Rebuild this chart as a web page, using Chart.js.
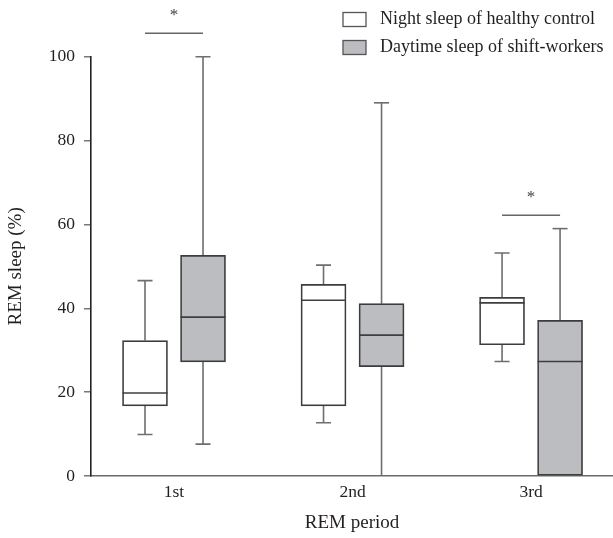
<!DOCTYPE html>
<html>
<head>
<meta charset="utf-8">
<script src="https://cdn.jsdelivr.net/npm/chart.js@4/dist/chart.umd.min.js"></script>
<style>
  html, body { margin: 0; padding: 0; background: #ffffff; }
  #wrap { width: 613px; height: 538px; position: relative; }
</style>
</head>
<body>
<div id="wrap"><canvas id="c" width="613" height="538"></canvas></div>
<script>
// ---- Data ----
const categories = ['1st', '2nd', '3rd'];
const seriesNames = ['Night sleep of healthy control', 'Daytime sleep of shift-workers'];

const controlMin    = [9.9, 12.7, 27.3];
const controlQ1     = [16.7, 16.7, 31.3];
const controlMedian = [19.8, 41.9, 41.3];
const controlQ3     = [32.3, 45.7, 42.6];
const controlMax    = [46.6, 50.3, 53.2];

const shiftMin      = [7.6, 0, 0];
const shiftQ1       = [27.2, 26.1, 0];
const shiftMedian   = [37.9, 33.6, 27.3];
const shiftQ3       = [52.6, 41.1, 37.1];
const shiftMax      = [100, 89.0, 59.0];

const yTickValues   = [0, 20, 40, 60, 80, 100];
const sigLevel      = [105.6, null, 62.2];   // level of significance bar per category (null = none)
const sigMark       = '*';

// ---- Styles ----
const FONT = "'Liberation Serif', 'Times New Roman', serif";
const TEXT = '#231f20';
const GRAY_FILL = '#bcbdc1';
const BOX_EDGE = '#3c3c3c';
const WHISKER = '#6e6e6e';
const BOX_W = 45;
const GROUP_OFF = 0.1625;

const stats = [
  { min: controlMin, q1: controlQ1, med: controlMedian, q3: controlQ3, max: controlMax },
  { min: shiftMin,   q1: shiftQ1,   med: shiftMedian,   q3: shiftQ3,   max: shiftMax }
];

function boxData(s, sign) {
  return categories.map((c, i) => ({ x: i + 1 + sign * GROUP_OFF, y: [s.q1[i], s.q3[i]] }));
}

const boxPlugin = {
  id: 'boxParts',
  beforeDatasetsDraw(chart) {
    const ctx = chart.ctx, y = chart.scales.y;
    ctx.save();
    ctx.strokeStyle = WHISKER;
    ctx.lineWidth = 1.6;
    stats.forEach((s, d) => {
      const meta = chart.getDatasetMeta(d);
      meta.data.forEach((el, i) => {
        const x = el.x;
        const cap = 15;
        const yMin = y.getPixelForValue(s.min[i]);
        const yQ1 = y.getPixelForValue(s.q1[i]);
        const yQ3 = y.getPixelForValue(s.q3[i]);
        const yMax = y.getPixelForValue(s.max[i]);
        ctx.beginPath();
        ctx.moveTo(x, yQ3); ctx.lineTo(x, yMax);
        ctx.moveTo(x, yQ1); ctx.lineTo(x, yMin);
        ctx.stroke();
        ctx.beginPath();
        ctx.moveTo(x - cap / 2, yMax); ctx.lineTo(x + cap / 2, yMax);
        if (s.min[i] > y.min) { ctx.moveTo(x - cap / 2, yMin); ctx.lineTo(x + cap / 2, yMin); }
        ctx.stroke();
      });
    });
    ctx.restore();
  },
  afterDatasetsDraw(chart) {
    const ctx = chart.ctx, y = chart.scales.y;
    ctx.save();
    ctx.strokeStyle = '#3e3e3e';
    ctx.lineWidth = 1.6;
    stats.forEach((s, d) => {
      const meta = chart.getDatasetMeta(d);
      meta.data.forEach((el, i) => {
        const ym = y.getPixelForValue(s.med[i]);
        ctx.beginPath();
        ctx.moveTo(el.x - el.width / 2, ym);
        ctx.lineTo(el.x + el.width / 2, ym);
        ctx.stroke();
      });
    });
    ctx.restore();
  },
  afterDraw(chart) {
    const ctx = chart.ctx, y = chart.scales.y;
    ctx.save();
    // significance bars
    const m0 = chart.getDatasetMeta(0), m1 = chart.getDatasetMeta(1);
    sigLevel.forEach((lv, i) => {
      if (lv === null) return;
      const yp = y.getPixelForValue(lv);
      ctx.strokeStyle = '#666';
      ctx.lineWidth = 1.5;
      ctx.beginPath();
      ctx.moveTo(m0.data[i].x, yp);
      ctx.lineTo(m1.data[i].x, yp);
      ctx.stroke();
      ctx.fillStyle = '#444';
      ctx.font = '17px ' + FONT;
      ctx.textAlign = 'center';
      ctx.textBaseline = 'alphabetic';
      ctx.fillText(sigMark, (m0.data[i].x + m1.data[i].x) / 2, yp - 13);
    });
    // legend
    const lx = 343, ly = [12.5, 40.5];
    const fills = ['#ffffff', GRAY_FILL];
    seriesNames.forEach((name, k) => {
      ctx.fillStyle = fills[k];
      ctx.fillRect(lx, ly[k], 23, 14);
      ctx.strokeStyle = '#555';
      ctx.lineWidth = 1.3;
      ctx.strokeRect(lx, ly[k], 23, 14);
      ctx.fillStyle = TEXT;
      ctx.font = '18px ' + FONT;
      ctx.textAlign = 'left';
      ctx.textBaseline = 'middle';
      ctx.fillText(name, 380, ly[k] + 7);
    });
    ctx.restore();
  }
};

new Chart(document.getElementById('c'), {
  type: 'bar',
  data: {
    datasets: [
      {
        label: seriesNames[0],
        data: boxData(stats[0], -1),
        backgroundColor: '#ffffff',
        borderColor: BOX_EDGE,
        borderWidth: 1.7,
        borderSkipped: false,
        grouped: false,
        barThickness: BOX_W
      },
      {
        label: seriesNames[1],
        data: boxData(stats[1], 1),
        backgroundColor: GRAY_FILL,
        borderColor: BOX_EDGE,
        borderWidth: 1.7,
        borderSkipped: false,
        grouped: false,
        barThickness: BOX_W
      }
    ]
  },
  options: {
    responsive: false,
    animation: false,
    devicePixelRatio: 1,
    layout: { padding: { left: 0, right: 0, top: 56.7, bottom: 0 } },
    plugins: {
      legend: { display: false },
      tooltip: { enabled: false }
    },
    scales: {
      x: {
        type: 'linear',
        offset: false,
        min: 0.535,
        max: 3.459,
        afterBuildTicks(scale) { scale.ticks = categories.map((c, i) => ({ value: i + 1 })); },
        afterFit(scale) { scale.height = 62; },
        grid: { display: false, offset: false },
        border: { display: true, color: '#6a6a6a', width: 1.6 },
        ticks: {
          color: TEXT,
          font: { family: FONT, size: 17.5 },
          padding: -2,
          maxRotation: 0,
          callback: (v) => categories[Math.round(v) - 1]
        },
        title: {
          display: true,
          text: 'REM period',
          color: TEXT,
          font: { family: FONT, size: 19 },
          padding: { top: 0, bottom: 4 }
        }
      },
      y: {
        min: 0,
        max: 100,
        afterBuildTicks(scale) { scale.ticks = yTickValues.map(v => ({ value: v })); },
        afterFit(scale) { scale.width = 91; },
        grid: { drawOnChartArea: false, drawTicks: true, tickLength: 7, color: '#777', lineWidth: 1.5 },
        border: { display: true, color: '#222', width: 1.6 },
        ticks: {
          color: TEXT,
          font: { family: FONT, size: 17.5 },
          padding: 9
        },
        title: {
          display: true,
          text: 'REM sleep (%)',
          color: TEXT,
          font: { family: FONT, size: 19 },
          padding: { top: 5, bottom: 0 }
        }
      }
    }
  },
  plugins: [boxPlugin]
});
</script>
</body>
</html>
